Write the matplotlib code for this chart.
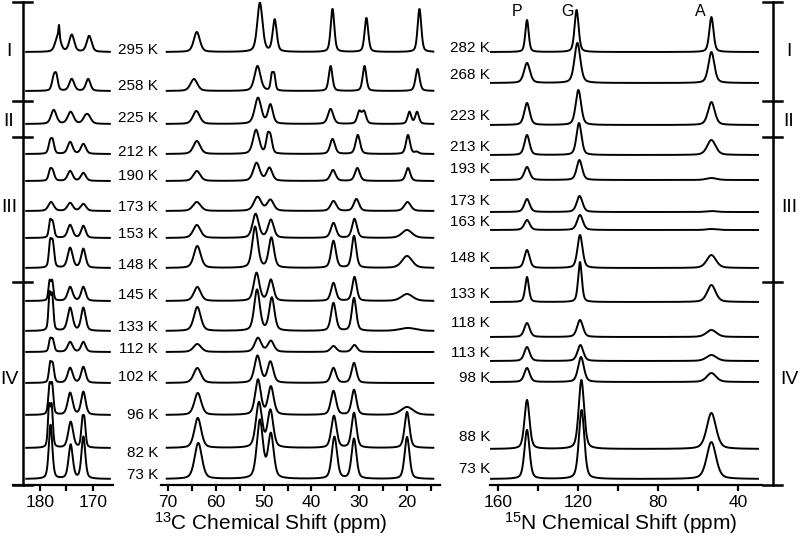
import numpy as np
import matplotlib.pyplot as plt
from matplotlib.ticker import FixedLocator

plt.rcParams['font.family'] = ['Liberation Sans', 'DejaVu Sans']
plt.rcParams['mathtext.fontset'] = 'custom'
plt.rcParams['mathtext.rm'] = 'Liberation Sans'
plt.rcParams['mathtext.it'] = 'Liberation Sans:italic'

# ---- 13C spectra (heights in px above each baseline) ----
temps_c = ['295 K', '258 K', '225 K', '212 K', '190 K', '173 K', '153 K', '148 K',
           '145 K', '133 K', '112 K', '102 K', '96 K', '82 K', '73 K']
base_c = [52, 91, 124, 154, 181, 211, 238, 268, 301, 331, 352, 383, 415, 448, 479]
label_y_c = [50, 86, 118, 152, 176, 207, 234, 265, 295, 327, 349, 377, 415, 453, 475]

# carbonyl region: (ppm, height, fwhm)
co_peaks = [
    [(176.6, 16, 1.2), (176.4, 12, 0.25), (174.0, 17, 1.1), (170.7, 16, 1.1)],
    [(177.4, 13, 0.8), (176.9, 13, 0.7), (174.0, 12, 1.1), (170.9, 12, 1.0)],
    [(177.4, 14, 1.2), (174.2, 12, 1.3), (171.4, 6, 1.2), (170.8, 6, 1.2)],
    [(178.1, 11, 0.7), (177.6, 12, 0.7), (174.3, 12, 1.1), (171.8, 10, 1.1)],
    [(178.1, 9, 0.7), (177.6, 9, 0.8), (174.3, 10, 1.1), (171.8, 8, 1.1)],
    [(177.9, 9, 1.2), (174.3, 8, 1.2), (171.8, 7, 1.2)],
    [(178.1, 15, 0.55), (177.6, 15, 0.65), (174.3, 13, 1.1), (171.8, 12, 1.0)],
    [(178.1, 23, 0.55), (177.6, 25, 0.65), (174.3, 20, 1.1), (171.8, 19, 1.0)],
    [(178.2, 18, 0.5), (177.7, 19, 0.55), (174.3, 14, 1.1), (171.8, 14, 1.0)],
    [(178.2, 34, 0.5), (177.7, 34, 0.55), (174.3, 23, 1.1), (171.8, 23, 1.0)],
    [(178.1, 11, 0.55), (177.6, 12, 0.65), (174.3, 10, 1.1), (171.8, 10, 1.0)],
    [(178.1, 17, 0.55), (177.6, 18, 0.65), (174.3, 15, 1.1), (171.8, 16, 1.0)],
    [(178.2, 28, 0.55), (177.7, 28, 0.55), (174.3, 22, 1.1), (171.8, 23, 1.0)],
    [(178.3, 38, 0.5), (177.8, 40, 0.55), (174.2, 26, 1.1), (172.0, 24, 0.55), (171.6, 24, 0.55)],
    [(178.0, 54, 0.8), (174.2, 34, 0.95), (171.8, 42, 0.85)],
]

# aliphatic region
al_peaks = [
    [(64.0, 20, 1.5), (50.8, 49, 1.3), (47.7, 32, 1.0), (35.6, 43, 0.9), (28.5, 34, 0.9), (17.4, 43, 0.9)],
    [(64.6, 12, 1.7), (51.3, 25, 1.5), (48.3, 15, 0.6), (47.8, 15, 0.6), (36.0, 25, 0.9), (28.9, 25, 0.9), (17.8, 22, 1.0)],
    [(64.1, 13, 1.7), (51.2, 26, 1.6), (48.6, 19, 1.2), (36.0, 15, 1.3), (30.0, 12, 1.0), (29.0, 12, 1.0),
     (19.5, 12, 0.9), (17.9, 12, 0.9)],
    [(64.0, 13, 1.7), (51.6, 24, 1.5), (49.2, 15, 0.8), (48.6, 16, 0.9), (35.6, 15, 1.2), (30.3, 19, 1.1),
     (19.8, 19, 1.0), (18.0, 2, 1.0)],
    [(64.0, 10, 1.7), (51.5, 18, 1.6), (48.8, 13, 1.4), (35.5, 11, 1.3), (30.4, 13, 1.2), (19.8, 13, 1.1)],
    [(64.0, 9, 1.9), (51.3, 14, 1.8), (48.6, 11, 1.6), (35.4, 10, 1.4), (30.6, 12, 1.3), (19.9, 9, 1.6)],
    [(64.0, 13, 1.8), (51.7, 24, 1.5), (48.5, 18, 1.4), (35.4, 15, 1.3), (31.0, 19, 1.2), (20.0, 8, 2.5)],
    [(63.9, 22, 1.7), (51.8, 41, 1.4), (48.4, 30, 1.3), (35.4, 27, 1.2), (31.1, 32, 1.1), (20.0, 12, 2.5)],
    [(63.9, 14, 1.7), (51.5, 28, 1.4), (48.5, 21, 1.3), (35.4, 18, 1.2), (31.0, 24, 1.1), (20.0, 7, 2.8)],
    [(63.9, 24, 1.7), (51.4, 41, 1.4), (48.3, 33, 1.3), (35.4, 28, 1.2), (31.1, 33, 1.1), (19.8, 3, 4.0)],
    [(63.9, 8, 1.9), (51.2, 14, 1.6), (48.5, 11, 1.5), (35.4, 6, 1.4), (31.0, 7, 1.3)],
    [(63.9, 15, 1.8), (51.3, 27, 1.5), (48.6, 21, 1.4), (35.4, 15, 1.3), (31.1, 20, 1.2)],
    [(63.8, 22, 1.7), (51.2, 35, 1.4), (48.5, 28, 1.4), (35.4, 24, 1.3), (31.1, 25, 1.2), (20.0, 8, 3.0)],
    [(63.8, 30, 1.7), (51.0, 45, 1.5), (48.6, 37, 1.4), (35.3, 32, 1.3), (31.1, 35, 1.2), (20.0, 36, 1.2)],
    [(63.7, 36, 1.8), (50.8, 58, 1.5), (48.5, 44, 1.4), (35.2, 42, 1.3), (31.1, 40, 1.2), (20.0, 42, 1.2)],
]

# ---- 15N spectra ----
temps_n = ['282 K', '268 K', '223 K', '213 K', '193 K', '173 K', '163 K', '148 K',
           '133 K', '118 K', '113 K', '98 K', '88 K', '73 K']
base_n = [52, 83, 125, 155, 180, 212, 230, 268, 302, 337, 361, 382, 449, 479]
label_y_n = [48, 75, 116, 147, 169, 201, 222, 258, 294, 323, 353, 378, 437, 469]
pos_p = 145.5
pos_g = [120.7, 120.3, 119.8, 119.5, 119.3, 119.2, 119.0, 119.0, 119.0, 119.0, 118.8, 118.5, 118.3, 118.2]
pos_a = 53.3
h_p = [32, 20, 22, 20, 13, 13, 10, 18, 25, 14, 14, 14, 49, 49]
h_g = [42, 40, 35, 32, 20, 16, 15, 33, 40, 17, 16, 25, 69, 69]
h_a = [35, 31, 23, 15, 2, 1, 1, 13, 17, 7, 6, 9, 36, 37]
w_p = [2.0, 3.5, 3.2, 3.0, 3.2, 3.2, 3.2, 3.0, 2.2, 3.2, 3.2, 3.2, 3.0, 3.0]
w_g = [2.4, 3.5, 3.2, 3.0, 3.2, 3.4, 3.4, 3.0, 2.2, 3.4, 3.4, 3.4, 3.2, 3.2]
w_a = [2.5, 3.5, 4.0, 5.0, 6.0, 6.0, 6.0, 5.5, 5.0, 6.0, 6.0, 5.5, 5.5, 5.5]

phases = ['I', 'II', 'III', 'IV']
phase_y = [52, 121, 207, 379]
phase_ticks = [2, 101, 137, 282, 485]


def spectrum(x, peaks):
    y = np.zeros_like(x)
    for pos, h, w in peaks:
        d = (x - pos) / w
        y += h * (0.6 * np.exp(-4 * np.log(2) * d ** 2) + 0.4 / (1 + 4 * d ** 2))
    return y


W, H = 800, 538
fig = plt.figure(figsize=(8, 5.38), dpi=100)
AX_BOT = 485


def panel(x0, x1, xlim):
    ax = fig.add_axes([x0 / W, (H - AX_BOT) / H, (x1 - x0) / W, AX_BOT / H])
    ax.set_xlim(*xlim)
    ax.set_ylim(0, AX_BOT)
    for s in ['left', 'right', 'top']:
        ax.spines[s].set_visible(False)
    ax.spines['bottom'].set_linewidth(1.6)
    ax.set_yticks([])
    ax.tick_params(axis='x', which='both', direction='out', length=4, width=1.6,
                   labelsize=12.5, pad=3)
    ax.patch.set_alpha(0)
    return ax


ax1 = panel(13, 113, (185.1, 166.2))
ax2 = panel(161, 440, (71.5, 13.1))
ax3 = panel(490, 762, (164, 28))

ax1.set_xticks([180, 170])
ax1.xaxis.set_minor_locator(FixedLocator([175]))
ax2.set_xticks([70, 60, 50, 40, 30, 20])
ax2.xaxis.set_minor_locator(FixedLocator([65, 55, 45, 35, 25, 15]))
ax3.set_xticks([160, 120, 80, 40])
ax3.xaxis.set_minor_locator(FixedLocator([140, 100, 60]))

x_co = np.linspace(182.6, 166.8, 600)
x_al = np.linspace(70.3, 14.5, 1200)
x_n = np.linspace(163.5, 30, 1200)

for i in range(len(temps_c)):
    b = AX_BOT - base_c[i]
    ax1.plot(x_co, b + spectrum(x_co, co_peaks[i]), color='black', lw=1.4, clip_on=False)
    ax2.plot(x_al, b + spectrum(x_al, al_peaks[i]), color='black', lw=1.4, clip_on=False)

for i in range(len(temps_n)):
    b = AX_BOT - base_n[i]
    pk = [(pos_p, h_p[i], w_p[i]), (pos_g[i], h_g[i], w_g[i]), (pos_a, h_a[i], w_a[i])]
    ax3.plot(x_n, b + spectrum(x_n, pk), color='black', lw=1.4, clip_on=False)

# overlay in pixel coordinates for bars and labels
ov = fig.add_axes([0, 0, 1, 1])
ov.set_xlim(0, W)
ov.set_ylim(H, 0)
ov.axis('off')
ov.patch.set_alpha(0)

ov.text(271, 523, r'$^{13}$C Chemical Shift (ppm)', ha='center', va='center', fontsize=15)
ov.text(621, 523, r'$^{15}$N Chemical Shift (ppm)', ha='center', va='center', fontsize=15)

for xb, xt0, xt1 in [(22.5, 13, 32), (773, 763, 782)]:
    ov.plot([xb, xb], [phase_ticks[0], phase_ticks[-1]], color='black', lw=1.8)
    for yt in phase_ticks:
        ov.plot([xt0, xt1], [yt, yt], color='black', lw=1.8)

for lab, yy in zip(phases, phase_y):
    ov.text(9, yy, lab, ha='center', va='center', fontsize=14)
    ov.text(789, yy, lab, ha='center', va='center', fontsize=14)

for lab, yy in zip(temps_c, label_y_c):
    ov.text(158, yy, lab, ha='right', va='center', fontsize=11)
for lab, yy in zip(temps_n, label_y_n):
    ov.text(490, yy, lab, ha='right', va='center', fontsize=11)

for lab, xx in zip(['P', 'G', 'A'], [517, 568, 700]):
    ov.text(xx, 12, lab, ha='center', va='center', fontsize=11.5)

fig.savefig('out.png', dpi=100)
